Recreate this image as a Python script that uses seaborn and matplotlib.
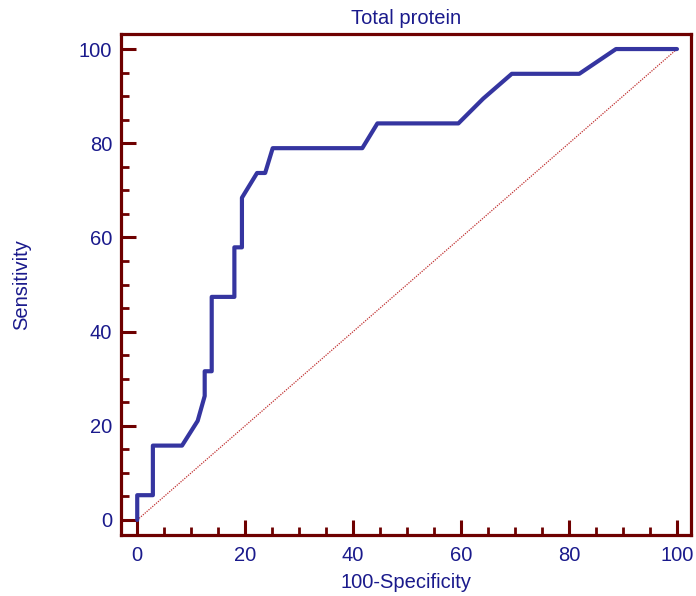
import numpy as np
import pandas as pd
import matplotlib
matplotlib.use("Agg")
import matplotlib.pyplot as plt
import seaborn as sns
from matplotlib.ticker import MultipleLocator

# ROC curve points
fpr = [0, 0, 2.9, 2.9, 8.3, 11.2, 12.5, 12.5, 13.8, 13.8, 18.0, 18.0, 19.4, 19.4,
       22.2, 23.7, 25.1, 41.7, 44.5, 59.5, 64.1, 69.4, 81.9, 88.7, 100]
tpr = [0, 5.26, 5.26, 15.79, 15.79, 21.05, 26.32, 31.58, 31.58, 47.37, 47.37, 57.89,
       57.89, 68.42, 73.68, 73.68, 78.95, 78.95, 84.21, 84.21, 89.47, 94.74, 94.74, 100, 100]
diag = [0, 100]

roc = pd.DataFrame({'x': fpr, 'y': tpr})
ref = pd.DataFrame({'x': diag, 'y': diag})

sns.set_style("white")
plt.rcParams['font.family'] = ['Liberation Sans', 'DejaVu Sans']

SPINE = '#6e0000'
TEXT = '#1a1a8c'
CURVE = '#3535a0'
FS = 14.5

fig = plt.figure(figsize=(6.96, 5.96), dpi=100)
ax = fig.add_axes([0.1739, 0.1023, 0.8189, 0.8407])

sns.lineplot(data=ref, x='x', y='y', ax=ax, color='#c03030', lw=0.9,
             linestyle=(0, (1, 1)), sort=False, estimator=None)
sns.lineplot(data=roc, x='x', y='y', ax=ax, color=CURVE, lw=3.0,
             sort=False, estimator=None)

ax.set_xlim(-3, 102.6)
ax.set_ylim(-3.2, 103.2)
ax.xaxis.set_major_locator(MultipleLocator(20))
ax.xaxis.set_minor_locator(MultipleLocator(5))
ax.yaxis.set_major_locator(MultipleLocator(20))
ax.yaxis.set_minor_locator(MultipleLocator(5))

for s in ax.spines.values():
    s.set_color(SPINE)
    s.set_linewidth(2.3)

ax.tick_params(which='both', bottom=True, left=True, top=False, right=False)
ax.tick_params(which='major', direction='in', length=11, width=2.2, color=SPINE,
               labelcolor=TEXT, labelsize=FS, pad=6.5)
ax.tick_params(which='minor', direction='in', length=5.5, width=2.0, color=SPINE)
ax.tick_params(axis='x', which='major', pad=8)

ax.set_xlabel('100-Specificity', color=TEXT, fontsize=FS, labelpad=6)
ax.set_ylabel('Sensitivity', color=TEXT, fontsize=FS, labelpad=34)
ax.set_title('Total protein', color=TEXT, fontsize=FS, pad=7)

fig.savefig('out.png', dpi=100)
